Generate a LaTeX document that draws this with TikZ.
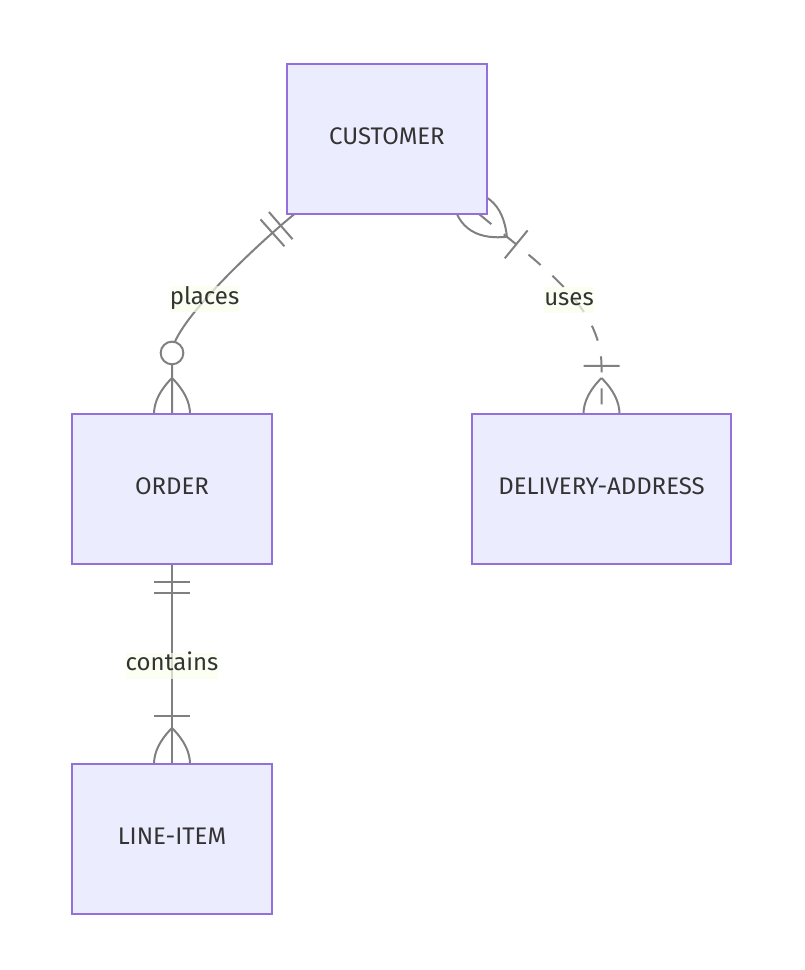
\documentclass[tikz,border=0pt]{standalone}
\usepackage{fontspec}
\setmainfont{Fira Sans}
\usetikzlibrary{decorations.markings,backgrounds,calc}
\definecolor{boxfill}{HTML}{ECECFF}
\definecolor{boxline}{HTML}{9370DB}
\definecolor{edgegray}{HTML}{808080}
\definecolor{txtgray}{HTML}{333333}
\definecolor{lblbg}{HTML}{F9FFEC}
\tikzset{
  entity/.style={draw=boxline, line width=1.5pt, fill=boxfill, minimum width=150pt, minimum height=112.5pt, inner sep=0pt, outer sep=0pt, text=txtgray, font=\fontsize{18}{22}\selectfont, text depth=4.5pt},
  rel/.style={draw=edgegray, line width=1.5pt},
  mk/.style={draw=edgegray, line width=1.5pt, solid},
  lbl/.style={fill=lblbg, fill opacity=0.7, text opacity=1, text=txtgray, font=\fontsize{18}{22}\selectfont, inner xsep=0pt, inner ysep=0pt, text height=13.5pt, text depth=6pt},
  start one/.style={postaction={decorate, decoration={markings,
     mark=at position 13.5pt with {\draw[mk] (0,-13.5pt) -- (0,13.5pt);},
     mark=at position 21.75pt with {\draw[mk] (0,-13.5pt) -- (0,13.5pt);}}}},
  start many/.style={postaction={decorate, decoration={markings,
     mark=at position 27pt with {\draw[mk] (0,0) .. controls (-18pt,18pt) and (-36pt,18pt) .. (-54pt,0) .. controls (-36pt,-18pt) and (-18pt,-18pt) .. (0,0);},
     mark=at position 36pt with {\draw[mk] (0,-13.5pt) -- (0,13.5pt);}}}},
  end many/.style={postaction={decorate, decoration={markings,
     mark=at position -36pt with {\draw[mk] (0,-13.5pt) -- (0,13.5pt);},
     mark=at position -27pt with {\draw[mk] (0,0) .. controls (18pt,18pt) and (36pt,18pt) .. (54pt,0) .. controls (36pt,-18pt) and (18pt,-18pt) .. (0,0);}}}},
  end zero many/.style={postaction={decorate, decoration={markings,
     mark=at position -45.75pt with {\draw[mk, fill=white] (0,0) circle[radius=8.5pt];},
     mark=at position -27pt with {\draw[mk] (0,0) .. controls (18pt,18pt) and (36pt,18pt) .. (54pt,0) .. controls (36pt,-18pt) and (18pt,-18pt) .. (0,0);}}}},
}
\begin{document}
\begin{tikzpicture}[x=0.75pt,y=-0.75pt]
\useasboundingbox (0,0) rectangle (804,970);
\node[entity] (cust) at (387,139) {CUSTOMER};
\node[entity] (order) at (172,489) {ORDER};
\node[entity, minimum width=194.25pt] (deliv) at (601.5,489) {DELIVERY-ADDRESS};
\node[entity] (item) at (172,839) {LINE-ITEM};
\begin{pgfonlayer}{background}
\draw[rel, start one, end zero many] ($(cust.south west)+(7.5,0)$) .. controls (263.3,239.2) and (172,323) .. ($(order.north)+(0,-61)$) -- (order.north);
\draw[rel, dash pattern=on 12pt off 12pt, start many, end many] ($(cust.south east)+(-8,0)$) .. controls (540.6,265.2) and (601.5,306) .. ($(deliv.north)+(0,-48)$) -- (deliv.north);
\draw[rel, start one, end many] (order.south) -- (item.north);
\end{pgfonlayer}
\node[lbl] (lplaces) at (204.5,299) {places};
\node[lbl] (luses) at (569,300) {uses};
\node[lbl] (lcontains) at (172,665.5) {contains};
\end{tikzpicture}
\end{document}
